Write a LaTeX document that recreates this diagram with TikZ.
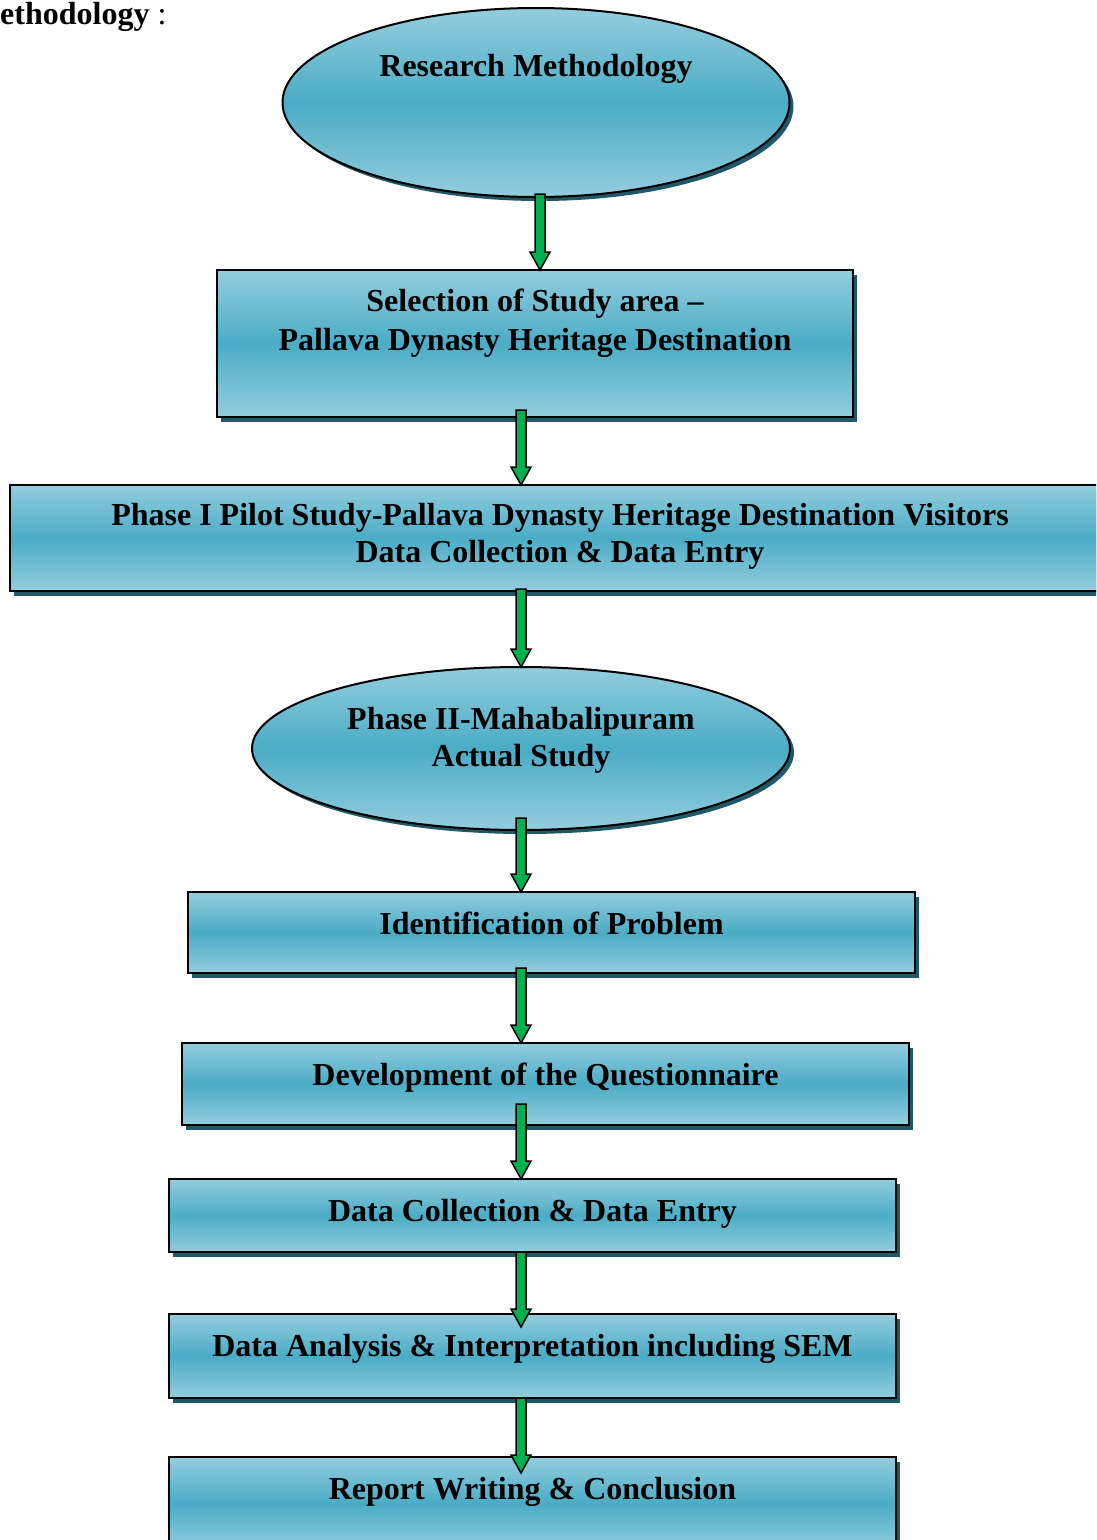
\documentclass[tikz,border=0pt]{standalone}
\usepackage{fontspec}
\setmainfont{Liberation Serif}
\usetikzlibrary{shapes.geometric, positioning, calc, shadows}
\definecolor{lightteal}{RGB}{147,205,221}
\definecolor{midteal}{RGB}{75,172,198}
\definecolor{shadowteal}{RGB}{33,88,103}
\definecolor{arrowgreen}{RGB}{0,176,80}
\tikzset{every node/.append style={align=center},
  stepbox/.style={draw, line width=2pt, rectangle, inner sep=0pt, outer sep=0pt,
    top color=lightteal, bottom color=lightteal, middle color=midteal,
    drop shadow={shadow xshift=4pt, shadow yshift=-5pt, fill=shadowteal, opacity=1}},
  stepoval/.style={draw, line width=2pt, ellipse, inner sep=0pt, outer sep=0pt,
    top color=lightteal, bottom color=lightteal, middle color=midteal,
    drop shadow={shadow xshift=4pt, shadow yshift=-4pt, fill=shadowteal, opacity=1}},
  steptext/.style={font=\fontsize{32}{38}\selectfont\bfseries, inner sep=0pt},
  greenarrow/.style={draw=black, line width=1.5pt, fill=arrowgreen, line join=miter}}

% block arrow: x, from node, to node, start inset, tip inset
\newcommand{\flowarrow}[5]{%
  \draw[greenarrow] let \p1=(#2.south), \p2=(#3.north) in
    (#1pt-5pt,\y1+#4pt) -- (#1pt+5pt,\y1+#4pt) -- (#1pt+5pt,\y2-#5pt+18pt)
    -- (#1pt+10pt,\y2-#5pt+18pt) -- (#1pt,\y2-#5pt) -- (#1pt-10pt,\y2-#5pt+18pt)
    -- (#1pt-5pt,\y2-#5pt+18pt) -- cycle;}

\begin{document}
\begin{tikzpicture}[x=1pt,y=1pt]
\path[use as bounding box] (0,0) rectangle (1096,-1540);
\clip (0,0) rectangle (1096,-1540);

% ── Heading at the top left ──────────────────────────────────────────────────
\node[font=\fontsize{32}{38}\selectfont, inner sep=0pt, anchor=base west]
     (heading) at (0,-24) {\textbf{ethodology} :};

% ── Shapes ───────────────────────────────────────────────────────────────────
\node[stepoval, minimum width=507, minimum height=189] (resmeth) at (536,-102.5) {};
\node[stepbox, minimum width=636, minimum height=147] (studyarea) at (535,-343.5) {};
\node[stepbox, minimum width=1100, minimum height=106] (pilot) at (560,-538) {};
\node[stepoval, minimum width=538, minimum height=163] (actual) at (521,-748.5) {};
\node[stepbox, minimum width=727, minimum height=81] (problem) at (551.5,-932.5) {};
\node[stepbox, minimum width=727, minimum height=82] (quest) at (545.5,-1084) {};
\node[stepbox, minimum width=727, minimum height=73] (collect) at (532.5,-1215.5) {};
\node[stepbox, minimum width=727, minimum height=84] (analysis) at (532.5,-1356) {};
\node[stepbox, minimum width=727, minimum height=93] (report) at (532.5,-1503.5) {};

% ── Texts ────────────────────────────────────────────────────────────────────
\node[steptext, below=46pt of resmeth.north] {Research Methodology};
\node[steptext, below=19pt of studyarea.north, font=\fontsize{32}{39}\selectfont\bfseries]
     {Selection of Study area --\\ Pallava Dynasty Heritage Destination};
\node[steptext, below=18pt of pilot.north, font=\fontsize{32}{37}\selectfont\bfseries]
     {Phase I Pilot Study-Pallava Dynasty Heritage Destination Visitors\\
      Data Collection \& Data Entry};
\node[steptext, below=40pt of actual.north, font=\fontsize{32}{37}\selectfont\bfseries]
     {Phase II-Mahabalipuram\\ Actual Study};
\node[steptext, below=20pt of problem.north] {Identification of Problem};
\node[steptext, below=20pt of quest.north] {Development of the Questionnaire};
\node[steptext, below=20pt of collect.north] {Data Collection \& Data Entry};
\node[steptext, below=20pt of analysis.north] {Data Analysis \& Interpretation including SEM};
\node[steptext, below=20pt of report.north] {Report Writing \& Conclusion};

% ── Arrows ───────────────────────────────────────────────────────────────────
\flowarrow{540}{resmeth}{studyarea}{3}{0}
\flowarrow{521}{studyarea}{pilot}{7}{0}
\flowarrow{521}{pilot}{actual}{2}{0}
\flowarrow{521}{actual}{problem}{12}{0}
\flowarrow{521}{problem}{quest}{5}{0}
\flowarrow{521}{quest}{collect}{21}{0}
\flowarrow{521}{collect}{analysis}{0}{13}
\flowarrow{521}{analysis}{report}{0}{16}

\end{tikzpicture}
\end{document}
